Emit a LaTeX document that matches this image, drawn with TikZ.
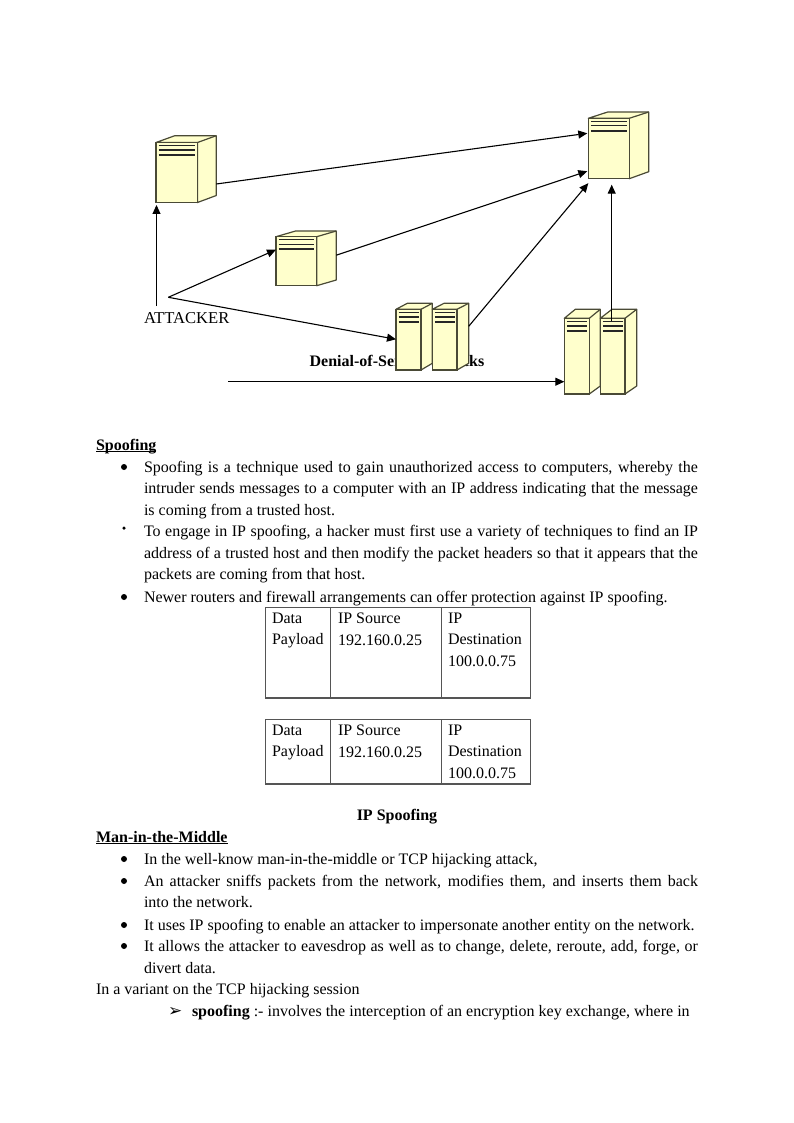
\documentclass[tikz,border=0pt]{standalone}
\usepackage{fontspec}
\setmainfont{Liberation Serif}
\newfontfamily\dingfont{DejaVu Sans}
\usetikzlibrary{calc,arrows.meta}
\definecolor{cream}{HTML}{FFFFCC}
\definecolor{srvedge}{HTML}{4A4A36}
\definecolor{rulegray}{HTML}{555555}
\tikzset{
  frontface/.style={draw=srvedge,fill=cream,line width=1.2pt,inner sep=0pt,outer sep=0pt,anchor=north west},
  sideface/.style={draw=srvedge,fill=cream,line width=1.2pt,line join=round},
  slat/.style={draw=black!85,line width=2pt},
  conn/.style={draw=black,line width=1.1pt,-{Triangle[length=9pt,width=8pt]}},
  body/.style={font=\fontsize{16}{21.5}\selectfont,inner sep=0pt,outer sep=0pt,anchor=base west,text=black},
  cell/.style={draw=rulegray,line width=0.9pt,inner sep=0pt,outer sep=0pt,anchor=north west},
  cellbase/.style={draw=rulegray,line width=1.8pt},
  bulletdot/.style={circle,fill=black,inner sep=0pt,outer sep=0pt,minimum size=6pt},
  smalldot/.style={circle,fill=black,inner sep=0pt,outer sep=0pt,minimum size=3.5pt},
}
\newlength\ulw
\newcommand\headrule[1]{\settowidth\ulw{#1}\rlap{\rule[-2.2pt]{\ulw}{1.1pt}}#1}
% name, x0, y0, x1, y1, right x, top y, bottom-right y
\newcommand\serverbox[8]{%
  \fill[sideface] (#2,#3) -- ({#2+(#6-#4)},#7) -- (#6,#7) -- (#6,#8) -- (#4,#5) -- (#4,#3) -- cycle;
  \draw[sideface] (#4,#3) -- (#6,#7);
  \node[frontface,minimum width={(#4-#2)*1pt},minimum height={(#5-#3)*1pt}] (#1) at (#2,#3) {};
  \draw[slat,line width=1.4pt] ({#2+2.5},{#3+3}) -- ({#4-2.5},{#3+3});
  \draw[slat,line width=1.4pt] ({#2+2.5},{#3+7.5}) -- ({#4-2.5},{#3+7.5});
  \draw[slat] ({#2+2.5},{#3+12.5}) -- ({#4-2.5},{#3+12.5});
}
\newcommand\tline[4]{\node[body] (#1) at (#2,#3) {#4};}
\newcommand\jline[4]{\node[body] (#1) at (#2,#3) {\makebox[554pt][s]{#4}};}
\newcommand\celltext[4]{\node[body,align=left,anchor=north west] (#1) at (#2,#3) {#4};}
\begin{document}
\begin{tikzpicture}[x=1pt,y=-1pt]
\useasboundingbox[fill=white] (0,0) rectangle (794,1123);
% caption lies behind the servers
\node[body,anchor=base] (cap) at (397,366) {\textbf{Denial-of-Service Attacks}};
\node[body,font=\fontsize{16.6}{20}\selectfont] (attacker) at (144,323) {ATTACKER};
% servers
\serverbox{s1}{156}{142.5}{197.5}{202.5}{216.3}{135.7}{195.5}
\serverbox{s2}{276}{236.7}{316.7}{285.7}{336.3}{231}{280}
\serverbox{target}{588.3}{118.3}{629.3}{178.7}{648.7}{112}{171.7}
\serverbox{m1}{396}{309.3}{421}{370}{432.3}{303.3}{363.3}
\serverbox{m2}{432.3}{309.3}{457}{370}{468.7}{303.3}{363.3}
\serverbox{r1}{564.3}{318.3}{589.3}{394}{600.3}{309.3}{386}
\serverbox{r2}{600.3}{318.3}{625}{394}{636.7}{309.3}{386}
% connectors
\coordinate (src) at (168.3,297.3);
\coordinate (up) at (156.5,306);
\coordinate (lowstart) at (228,381.7);
\draw[conn] (up) -- ($(s1.south west)+(0.5,2.5)$);
\draw[conn] (src) -- ($(s2.north west)+(0,13)$);
\draw[conn] (src) -- ($(m1.north west)+(0,30)$);
\draw[conn] ($(s1.north east)+(18.8,41.5)$) -- ($(target.north west)+(-1,15)$);
\draw[conn] ($(s2.north east)+(19.6,18.5)$) -- ($(target.south west)+(-1,-7.5)$);
\draw[conn] ($(m2.north east)+(11.7,17)$) -- ($(target.south west)+(0,4.5)$);
\draw[conn] ($(r2.north west)+(11.4,3)$) -- ($(target.south west)+(23.4,6)$);
\draw[conn] (lowstart) -- ($(r1.north west)+(0,63.4)$);
% Spoofing section
\tline{h1}{96}{450}{\headrule{\textbf{Spoofing}}}
\node[bulletdot] (b1) at (124,467) {};
\jline{l1}{144}{472}{Spoofing is a technique used to gain unauthorized access to computers, whereby the}
\jline{l2}{144}{493.5}{intruder sends messages to a computer with an IP address indicating that the message}
\tline{l3}{144}{515}{is coming from a trusted host.}
\node[smalldot] (b2) at (124,528) {};
\jline{l4}{144}{536.5}{To engage in IP spoofing, a hacker must first use a variety of techniques to find an IP}
\jline{l5}{144}{558}{address of a trusted host and then modify the packet headers so that it appears that the}
\tline{l6}{144}{579.5}{packets are coming from that host.}
\node[bulletdot] (b3) at (124,597) {};
\tline{l7}{144}{602}{Newer routers and firewall arrangements can offer protection against IP spoofing.}
% tables
\node[cell,minimum width=65.7pt,minimum height=91pt] (a1) at (265,607.3) {};
\node[cell,minimum width=110.3pt,minimum height=91pt] (a2) at (330.7,607.3) {};
\node[cell,minimum width=89pt,minimum height=91pt] (a3) at (441,607.3) {};
\draw[cellbase] (a1.south west) -- (a3.south east);
\celltext{at1}{272}{613}{Data\\Payload}
\celltext{at2}{338}{613}{IP Source\\192.160.0.25}
\celltext{at3}{448}{613}{IP\\Destination\\100.0.0.75}
\node[cell,minimum width=65.7pt,minimum height=65pt] (c1) at (265,719.3) {};
\node[cell,minimum width=110.3pt,minimum height=65pt] (c2) at (330.7,719.3) {};
\node[cell,minimum width=89pt,minimum height=65pt] (c3) at (441,719.3) {};
\draw[cellbase] (c1.south west) -- (c3.south east);
\celltext{ct1}{272}{725}{Data\\Payload}
\celltext{ct2}{338}{725}{IP Source\\192.160.0.25}
\celltext{ct3}{448}{725}{IP\\Destination\\100.0.0.75}
\node[body,anchor=base] (cap2) at (397,820) {\textbf{IP Spoofing}};
% Man-in-the-Middle section
\tline{h2}{96}{842}{\headrule{\textbf{Man-in-the-Middle}}}
\node[bulletdot] (b4) at (124,859) {};
\tline{m01}{144}{864}{In the well-know man-in-the-middle or TCP hijacking attack,}
\node[bulletdot] (b5) at (124,881) {};
\jline{m02}{144}{886}{An attacker sniffs packets from the network, modifies them, and inserts them back}
\tline{m03}{144}{907.5}{into the network.}
\node[bulletdot] (b6) at (124,925) {};
\tline{m04}{144}{930}{It uses IP spoofing to enable an attacker to impersonate another entity on the network.}
\node[bulletdot] (b7) at (124,946) {};
\jline{m05}{144}{951.5}{It allows the attacker to eavesdrop as well as to change, delete, reroute, add, forge, or}
\tline{m06}{144}{973}{divert data.}
\tline{m07}{96}{994.5}{In a variant on the TCP hijacking session}
\node[body] (arr) at (168,1016.5) {{\dingfont\fontsize{17}{20}\selectfont ➢}};
\tline{m08}{192}{1016}{\textbf{spoofing} :- involves the interception of an encryption key exchange, where in}
\end{tikzpicture}
\end{document}
